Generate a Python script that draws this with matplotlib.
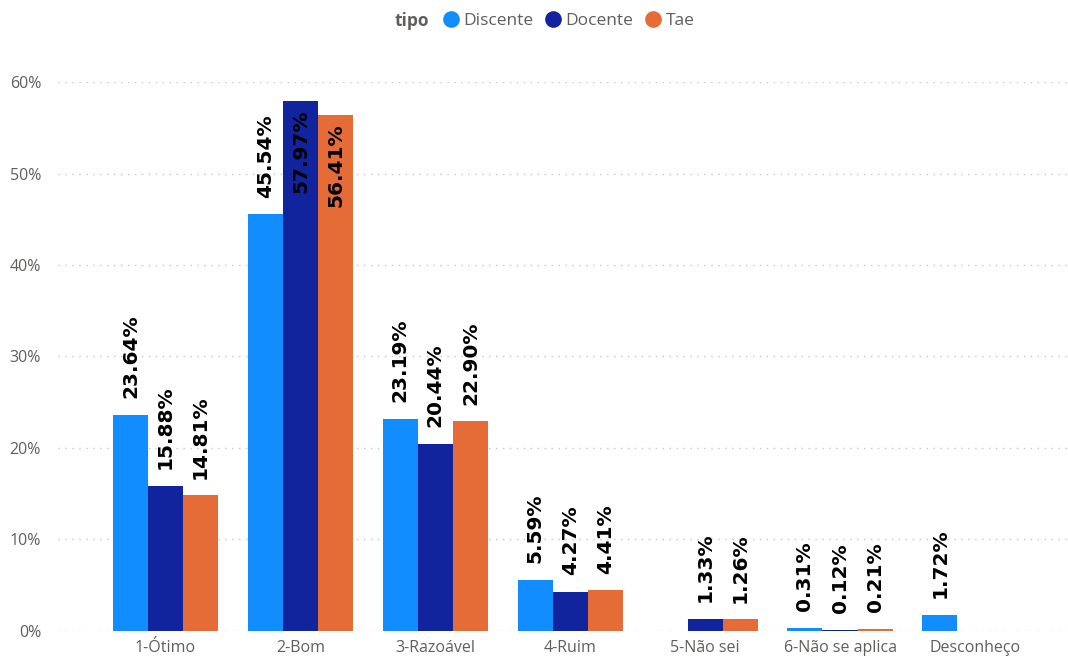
import numpy as np
import matplotlib.pyplot as plt
from matplotlib.lines import Line2D
from matplotlib.offsetbox import HPacker

categorias = ["1-Ótimo", "2-Bom", "3-Razoável", "4-Ruim", "5-Não sei", "6-Não se aplica", "Desconheço"]
tipos = ["Discente", "Docente", "Tae"]
discente = [23.64, 45.54, 23.19, 5.59, np.nan, 0.31, 1.72]
docente = [15.88, 57.97, 20.44, 4.27, 1.33, 0.12, np.nan]
tae = [14.81, 56.41, 22.90, 4.41, 1.26, 0.21, np.nan]
cores = ["#118DFF", "#12239E", "#E66C37"]
yticks = [0, 10, 20, 30, 40, 50, 60]

plt.rcParams['font.family'] = ['Open Sans', 'DejaVu Sans']

fig = plt.figure(figsize=(10.68, 6.57), dpi=100)
ax = fig.add_axes([0.054, 0.04, 0.946, 0.835])

x = np.arange(len(categorias))
w = 0.26
for i, (serie, cor) in enumerate(zip([discente, docente, tae], cores)):
    vals = np.array(serie, dtype=float)
    pos = x + (i - 1) * w
    ok = ~np.isnan(vals)
    ax.bar(pos[ok], vals[ok], width=w, color=cor, zorder=3)
    for p, v in zip(pos[ok], vals[ok]):
        txt = f"{v:.2f}%"
        # labels that would not fit above go inside the bar
        if v > 50:
            ax.annotate(txt, (p, v), xytext=(0, -6), textcoords="offset points",
                        rotation=90, ha="center", va="top", fontsize=14.5,
                        fontweight="bold", color="black", family="DejaVu Sans", zorder=4)
        else:
            ax.annotate(txt, (p, v), xytext=(0, 12), textcoords="offset points",
                        rotation=90, ha="center", va="bottom", fontsize=14.5,
                        fontweight="bold", color="black", family="DejaVu Sans", zorder=4)

ax.set_xlim(-0.8, 6.69)
ax.set_ylim(0, 60)
ax.set_yticks(yticks)
ax.set_yticklabels([f"{t}%" for t in yticks])
ax.set_xticks(x)
ax.set_xticklabels(categorias)
ax.tick_params(axis="both", length=0, colors="#605E5C", labelsize=11.5)
ax.tick_params(axis="y", pad=12)
ax.tick_params(axis="x", pad=7)
ax.grid(axis="y", color="#C8C6C4", linestyle=(0, (1, 4)), linewidth=1, zorder=0)
for s in ax.spines.values():
    s.set_visible(False)

handles = [Line2D([], [], marker="o", linestyle="", markersize=11, color=c) for c in cores]
leg = fig.legend(handles, tipos, loc="upper center", bbox_to_anchor=(0.51, 1.006), ncol=3,
                 frameon=False, title="tipo", handlelength=0.9, handletextpad=0.25,
                 columnspacing=0.7, fontsize=12.5, labelcolor="#605E5C",
                 title_fontproperties={"weight": "bold", "size": 12.5})
leg.get_title().set_color("#605E5C")
# put the title on the same line as the entries
box = leg._legend_box
box.__class__ = HPacker
box.sep = 10
box.align = "center"

fig.savefig("out.png", dpi=100)
